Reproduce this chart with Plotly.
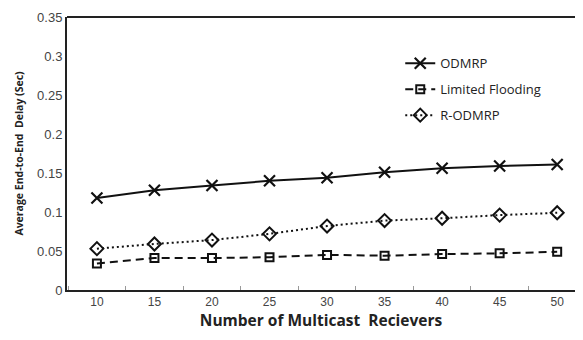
import plotly.graph_objects as go

receivers = ["10", "15", "20", "25", "30", "35", "40", "45", "50"]
odmrp = [0.118, 0.128, 0.134, 0.140, 0.144, 0.151, 0.156, 0.159, 0.161]
limited_flooding = [0.034, 0.041, 0.041, 0.042, 0.045, 0.044, 0.046, 0.047, 0.049]
r_odmrp = [0.053, 0.059, 0.064, 0.072, 0.082, 0.089, 0.092, 0.096, 0.099]
y_ticks = [0, 0.05, 0.1, 0.15, 0.2, 0.25, 0.3, 0.35]
y_tick_labels = ["0", "0.05", "0.1", "0.15", "0.2", "0.25", "0.3", "0.35"]

ink = "#111111"
fig = go.Figure()
fig.add_trace(go.Scatter(
    x=receivers, y=odmrp, name="ODMRP", mode="lines+markers", legendgroup="a",
    line=dict(color=ink, width=2, dash="solid"),
    marker=dict(symbol="x-thin-open", size=11, line=dict(color=ink, width=2.2), color=ink)))
fig.add_trace(go.Scatter(
    x=receivers, y=limited_flooding, name="Limited Flooding", mode="lines+markers", legendgroup="b",
    line=dict(color=ink, width=2, dash="8px,5px"),
    marker=dict(symbol="square-open", size=8, line=dict(color=ink, width=2), color=ink)))
fig.add_trace(go.Scatter(
    x=receivers, y=r_odmrp, name="R-ODMRP", mode="lines+markers", legendgroup="c",
    line=dict(color=ink, width=2, dash="2px,3px"),
    marker=dict(symbol="diamond-open", size=10, line=dict(color=ink, width=2), color=ink)))

fig.update_layout(
    width=567, height=324,
    margin=dict(l=59, r=0, t=9, b=42, autoexpand=False),
    paper_bgcolor="white", plot_bgcolor="white",
    showlegend=True,
    legend=dict(x=0.656, y=0.885, xanchor="left", yanchor="top",
                font=dict(family="Open Sans, Liberation Sans, sans-serif", size=13, color="#222"),
                bgcolor="rgba(0,0,0,0)", tracegroupgap=6),
    font=dict(family="Liberation Sans, Arial, sans-serif"),
    shapes=[dict(type="line", xref="paper", yref="paper", x0=0, x1=1, y0=1, y1=1,
                 line=dict(color="#222", width=2))],
)
fig.update_xaxes(
    type="category", range=[-0.52, 8.31], automargin=False,
    showline=True, linecolor="#222", linewidth=2, mirror=False,
    ticks="inside", tickson="boundaries", ticklen=4, tickcolor="#999", tickwidth=1,
    showgrid=False, zeroline=False, ticklabelstandoff=0,
    tickfont=dict(size=12, color="#444"),
    title=dict(text="<b>Number of Multicast  Recievers</b>",
               font=dict(family="Open Sans, sans-serif", size=15.5, color="#222"), standoff=3),
)
fig.update_yaxes(
    range=[0, 0.35], tickvals=y_ticks, ticktext=y_tick_labels, automargin=False,
    showline=True, linecolor="#222", linewidth=2,
    ticks="", showgrid=False, zeroline=False,
    tickfont=dict(size=13, color="#444"),
    title=dict(text="<b>Average End-to-End  Delay (Sec)</b>",
               font=dict(family="Open Sans, sans-serif", size=10.5, color="#222"), standoff=11),
)
fig.write_html("out.html")
